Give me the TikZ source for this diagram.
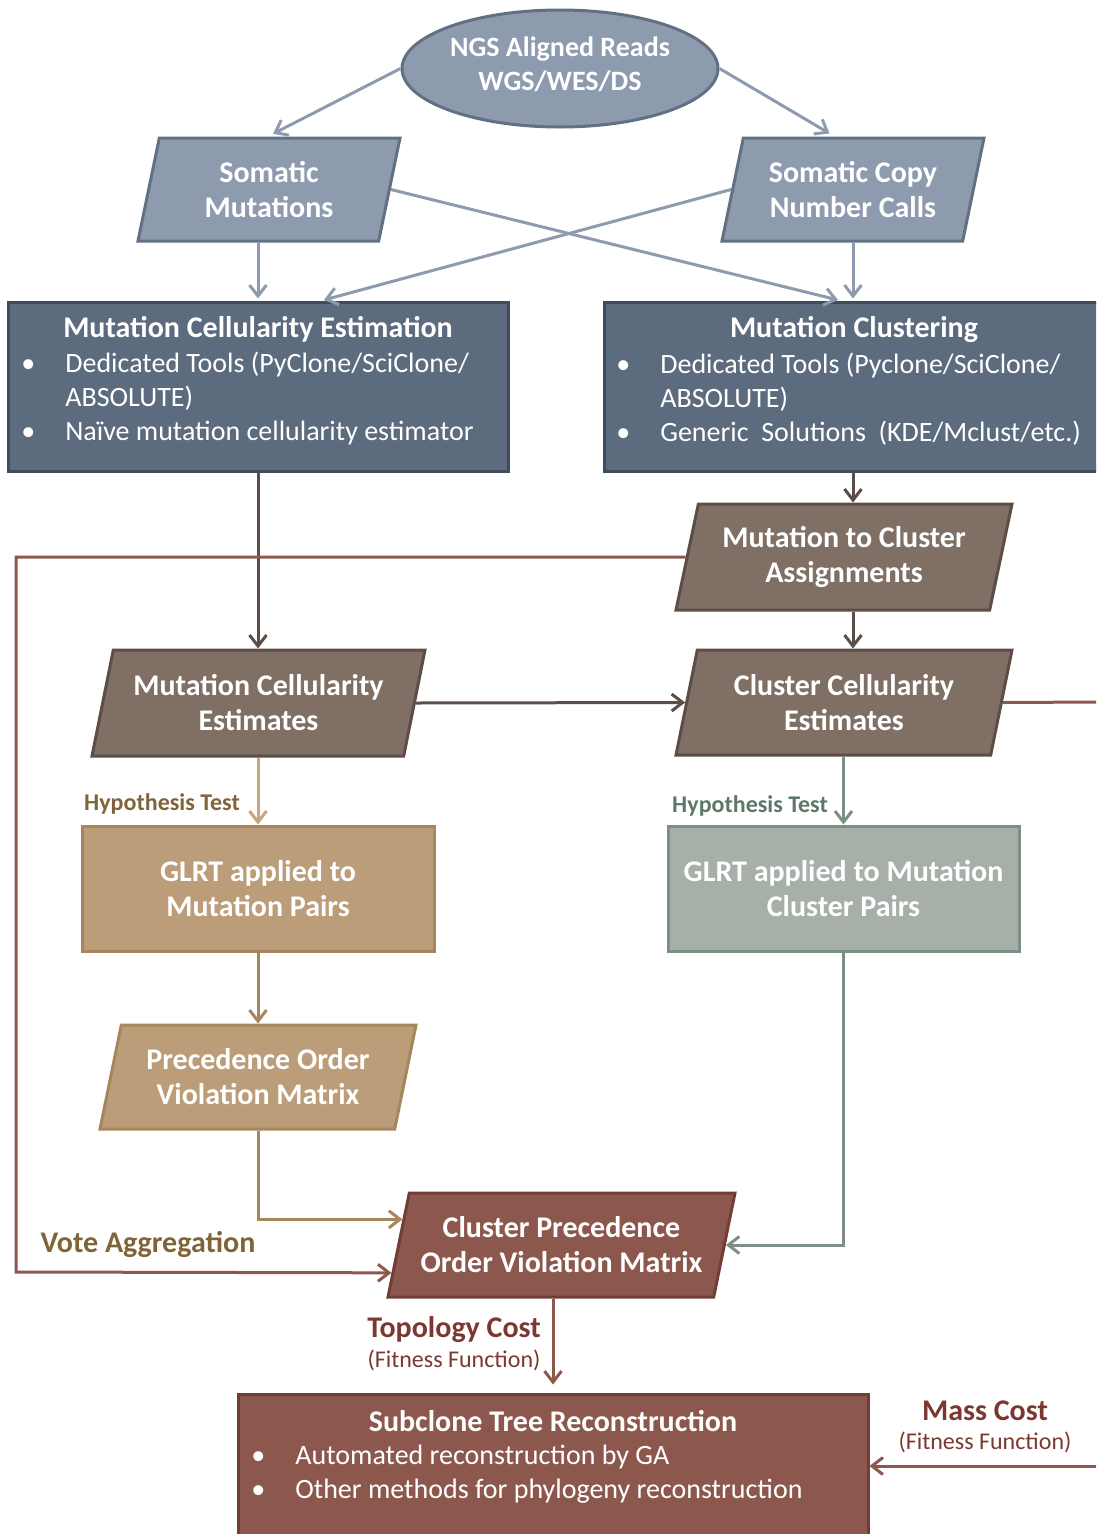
\documentclass[tikz,border=0pt]{standalone}
\usepackage{fontspec}
\setmainfont{Carlito}
\usetikzlibrary{shapes.geometric,arrows.meta,calc}

\definecolor{slateFill}{RGB}{142,155,175}
\definecolor{slateLine}{RGB}{98,112,132}
\definecolor{navyFill}{RGB}{92,107,125}
\definecolor{navyLine}{RGB}{62,76,92}
\definecolor{taupeFill}{RGB}{127,111,101}
\definecolor{taupeLine}{RGB}{92,78,70}
\definecolor{tanFill}{RGB}{188,157,122}
\definecolor{tanLine}{RGB}{166,134,92}
\definecolor{tanLight}{RGB}{198,166,122}
\definecolor{sageFill}{RGB}{166,175,168}
\definecolor{sageLine}{RGB}{125,143,133}
\definecolor{rustFill}{RGB}{140,88,78}
\definecolor{rustLine}{RGB}{112,62,54}
\definecolor{oliveText}{RGB}{127,100,58}
\definecolor{sageText}{RGB}{92,120,104}
\definecolor{rustText}{RGB}{122,56,48}

\newcommand{\bulitem}{\makebox[44pt][l]{\textbullet}}
\newcommand{\bulgap}{\hspace*{44pt}}

\tikzset{every picture/.style={line width=0.75pt},
  para/.style={trapezium, trapezium left angle=78, trapezium right angle=102,
    trapezium stretches body, inner xsep=0pt, inner ysep=22pt, line width=3pt, text=white,
    align=center, font=\fontsize{30}{35}\selectfont\bfseries},
  flatbox/.style={rectangle, inner sep=0pt, line width=3pt, text=white,
    align=center, font=\fontsize{30}{35}\selectfont\bfseries},
  boxtitle/.style={inner sep=0pt, text=white, font=\fontsize{30}{34}\selectfont\bfseries},
  boxlist/.style={inner sep=0pt, anchor=west, text=white, align=left, font=\fontsize{28}{34}\selectfont},
  link/.style={line width=3pt, -{Straight Barb[length=11pt,width=17pt]}},
  biglabel/.style={inner sep=0pt, font=\fontsize{30}{34}\selectfont\bfseries},
  smalllabel/.style={inner sep=0pt, font=\fontsize{24}{28}\selectfont}
}

\begin{document}
\begin{tikzpicture}[x=1pt,y=1pt,yscale=-1,xscale=1]
\useasboundingbox (0,0) rectangle (1096,1534);
\clip (0,0) rectangle (1096,1534);

%Shape: Ellipse
\node[ellipse, minimum width=316, minimum height=117, inner sep=0pt, fill=slateFill, draw=slateLine, line width=3pt, text=white, align=center, font=\fontsize{28}{34}\selectfont\bfseries] (NGS) at (560,68.5) {NGS Aligned Reads\\WGS/WES/DS\rule[-10pt]{0pt}{10pt}};
%Shape: Parallelogram
\node[para, fill=slateFill, draw=slateLine, minimum width=262, minimum height=103] (SomMut) at (269,189.5) {Somatic\\Mutations};
%Shape: Parallelogram
\node[para, fill=slateFill, draw=slateLine, minimum width=262, minimum height=103] (SomCNV) at (853,189.5) {Somatic Copy\\Number Calls};

%Shape: Rectangle
\node[flatbox, fill=navyFill, draw=navyLine, minimum width=500, minimum height=169] (MutCellEst) at (258,386.5) {};
%Shape: Rectangle
\node[flatbox, fill=navyFill, draw=navyLine, minimum width=498, minimum height=169] (MutClust) at (853,386.5) {};

%Shape: Parallelogram
\node[para, fill=taupeFill, draw=taupeLine, minimum width=336, minimum height=106] (MutClusAsg) at (844,557) {Mutation to Cluster\\Assignments};
%Shape: Parallelogram
\node[para, fill=taupeFill, draw=taupeLine, minimum width=333, minimum height=106] (MutCellEsts) at (258.5,703) {Mutation Cellularity\\Estimates};
%Shape: Parallelogram
\node[para, fill=taupeFill, draw=taupeLine, minimum width=336, minimum height=105] (ClusCellEsts) at (844,702.5) {Cluster Cellularity\\Estimates};

%Shape: Rectangle
\node[flatbox, fill=tanFill, draw=tanLine, minimum width=352, minimum height=125] (GlrtMut) at (258,888.5) {GLRT applied to\\Mutation Pairs};
%Shape: Rectangle
\node[flatbox, fill=sageFill, draw=sageLine, minimum width=351, minimum height=125] (GlrtClus) at (843.5,888.5) {GLRT applied to Mutation\\Cluster Pairs};

%Shape: Parallelogram
\node[para, fill=tanFill, draw=tanLine, minimum width=316, minimum height=104] (PrecViol) at (258,1077) {Precedence Order\\Violation Matrix};
%Shape: Parallelogram
\node[para, fill=rustFill, draw=rustLine, minimum width=347, minimum height=104] (ClusPrecViol) at (561.5,1245) {Cluster Precedence\\Order Violation Matrix};

%Shape: Rectangle
\node[flatbox, fill=rustFill, draw=rustLine, minimum width=630, minimum height=166] (TreeRec) at (553,1477) {};

% Text Node
\node[boxtitle] (tMutCellEst) at (258,329) {Mutation Cellularity Estimation};
% Text Node
\node[boxlist] (lMutCellEst) at (21,399) {\bulitem Dedicated Tools (PyClone/SciClone/\\ \bulgap ABSOLUTE)\\ \bulitem Naïve mutation cellularity estimator};
% Text Node
\node[boxtitle] (tMutClust) at (854,329) {Mutation Clustering};
% Text Node
\node[boxlist] (lMutClust) at (616,399) {\bulitem Dedicated Tools (Pyclone/SciClone/\\ \bulgap ABSOLUTE)\\ \bulitem Generic\ \ Solutions\ \ (KDE/Mclust/etc.)};
% Text Node
\node[boxtitle] (tTreeRec) at (553,1421) {Subclone Tree Reconstruction};
% Text Node
\node[boxlist] (lTreeRec) at (251,1474) {\bulitem Automated reconstruction by GA\\ \bulitem Other methods for phylogeny reconstruction};

%Straight Lines
\draw[link, slateFill, shorten >=6pt] (NGS.west) -- ($(SomMut.top left corner)!0.45!(SomMut.top right corner)$);
\draw[link, slateFill, shorten >=6pt] (NGS.east) -- ($(SomCNV.top left corner)!0.38!(SomCNV.top right corner)$);
\draw[link, slateFill, shorten >=2pt] (SomMut.south -| MutCellEst.north) -- (MutCellEst.north);
\draw[link, slateFill, shorten >=2pt] (SomCNV.south -| MutClust.north) -- (MutClust.north);
\draw[link, slateFill, shorten >=2pt] (SomMut.east) -- ([xshift=-13]MutClust.north);
\draw[link, slateFill, shorten >=2pt] (SomCNV.west) -- ([xshift=64]MutCellEst.north);

%Straight Lines
\draw[link, taupeLine] (MutClust.south) -- (MutClust.south |- MutClusAsg.north);
\draw[link, taupeLine] (MutClusAsg.south -| MutClust.south) -- (MutClust.south |- ClusCellEsts.north);
\draw[link, taupeLine] (MutCellEst.south) -- (MutCellEst.south |- MutCellEsts.north);
\draw[link, taupeLine] (MutCellEsts.east) -- (ClusCellEsts.west);

%Straight Lines
\draw[link, tanLight] (MutCellEsts.south -| GlrtMut.north) -- (GlrtMut.north);
\draw[link, tanLine] (GlrtMut.south) -- (GlrtMut.south |- PrecViol.north);
\draw[link, tanLine] (PrecViol.south -| GlrtMut.south) |- ($(ClusPrecViol.bottom left corner)!0.74!(ClusPrecViol.top left corner)$);
\draw[link, sageLine] (ClusCellEsts.south -| GlrtClus.north) -- (GlrtClus.north);
\draw[link, sageLine] (GlrtClus.south) |- (ClusPrecViol.east);

%Straight Lines
\coordinate (voteCorner) at (16,1272);
\coordinate (cellOut) at (1100,702);
\coordinate (massIn) at (1100,1466);
\draw[link, rustFill] (MutClusAsg.west) -| (voteCorner) -- ($(ClusPrecViol.bottom left corner)!0.24!(ClusPrecViol.top left corner)$);
\draw[line width=3pt, rustFill] (ClusCellEsts.east) -- (cellOut);
\draw[link, rustFill, shorten >=8pt] (ClusPrecViol.south -| TreeRec.north) -- (TreeRec.north);
\draw[link, rustFill] (massIn) -- (massIn -| TreeRec.east);

% Text Node
\node[inner sep=0pt, text=oliveText, font=\fontsize{24}{28}\selectfont\bfseries] (hypMut) at (162,804) {Hypothesis Test};
% Text Node
\node[inner sep=0pt, text=sageText, font=\fontsize{24}{28}\selectfont\bfseries] (hypClus) at (750,806) {Hypothesis Test};
% Text Node
\node[biglabel, text=oliveText] (voteAgg) at (148,1244) {Vote Aggregation};
% Text Node
\node[biglabel, text=rustText] (topoCost) at (454,1329) {Topology Cost};
% Text Node
\node[smalllabel, text=rustText] (topoFit) at (454,1360) {(Fitness Function)};
% Text Node
\node[biglabel, text=rustText] (massCost) at (985,1411) {Mass Cost};
% Text Node
\node[smalllabel, text=rustText] (massFit) at (985,1442) {(Fitness Function)};

\end{tikzpicture}
\end{document}
